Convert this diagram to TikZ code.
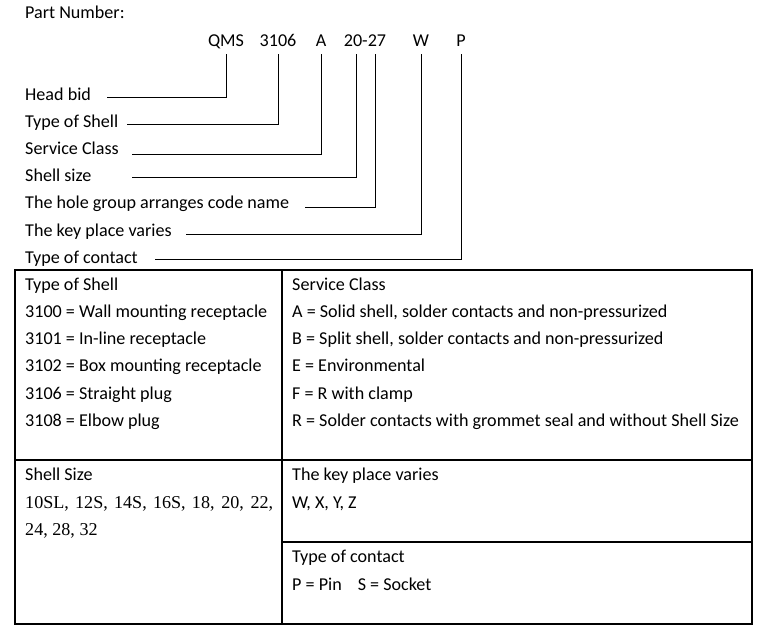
\documentclass[tikz,border=0pt]{standalone}
\usepackage{fontspec}
\setmainfont{Carlito}
\newfontfamily\timesfont{Liberation Serif}

\def\rowsep{27.3}

\begin{document}
\begin{tikzpicture}[x=1pt, y=-1pt, font=\fontsize{18.1}{22}\selectfont,
        txt/.style={anchor=base west, inner sep=0pt},
        codebox/.style={anchor=base, inner xsep=0pt, inner ysep=8pt, text height=12pt, text depth=0pt},
        lead/.style={line width=1pt},
        grid/.style={line width=1.2pt}]
    \useasboundingbox (0,0) rectangle (767,629);
    \node[txt] (pn) at (25,18.5) {Part Number:};
    \foreach \name/\code/\cx in {qms/QMS/226, shell/3106/278, cls/A/321, size/20-27/365, key/W/421, contact/P/461}
        \node[codebox] (\name) at (\cx,46) {\code};
    \coordinate (sizeL) at ([xshift=-9]size.south);
    \coordinate (sizeR) at ([xshift=10]size.south);
    \foreach \lab/\txt/\lx/\ly/\tgt [count=\i] in {hb/Head bid/107/97/qms.south, ts/Type of Shell/127/124/shell.south,
            sc/Service Class/132/154/cls.south, ss/Shell size/132/177/sizeL,
            hg/The hole group arranges code name/305/207/sizeR, kp/The key place varies/186/234/key.south,
            tc/Type of contact/155/259/contact.south} {
        \node[txt] (\lab) at (25,{100+(\i-1)*27.2}) {\txt};
        \coordinate (\lab-end) at (\lx,\ly);
        \draw[lead] (\lab-end) -| (\tgt);
    }
    \draw[grid] (15,270) rectangle (752,624);
    \draw[grid] (282,270) -- (282,624);
    \draw[grid] (15,460) -- (752,460);
    \draw[grid] (282,542) -- (752,542);
    \foreach \t [count=\i] in {Type of Shell, 3100 = Wall mounting receptacle, 3101 = In-line receptacle,
            3102 = Box mounting receptacle, 3106 = Straight plug, 3108 = Elbow plug}
        \node[txt] (shelltype\i) at (25,{290+(\i-1)*\rowsep}) {\t};
    \foreach \t [count=\i] in {Service Class, {A = Solid shell, solder contacts and non-pressurized},
            {B = Split shell, solder contacts and non-pressurized}, E = Environmental, F = R with clamp,
            R = Solder contacts with grommet seal and without Shell Size}
        \node[txt] (service\i) at (292,{290+(\i-1)*\rowsep}) {\t};
    \node[txt] (sizehead) at (25,480) {Shell Size};
    \node[txt] (sizes1) at (25,508) {\makebox[248pt][s]{\timesfont 10SL, 12S, 14S, 16S, 18, 20, 22,}};
    \node[txt] (sizes2) at (25,535) {\timesfont 24, 28, 32};
    \node[txt] (keyhead) at (292,480) {The key place varies};
    \node[txt] (keys) at (292,508) {W, X, Y, Z};
    \node[txt] (conthead) at (292,562) {Type of contact};
    \node[txt] (conts) at (292,590) {P = Pin\hspace{16pt}S = Socket};
\end{tikzpicture}
\end{document}
